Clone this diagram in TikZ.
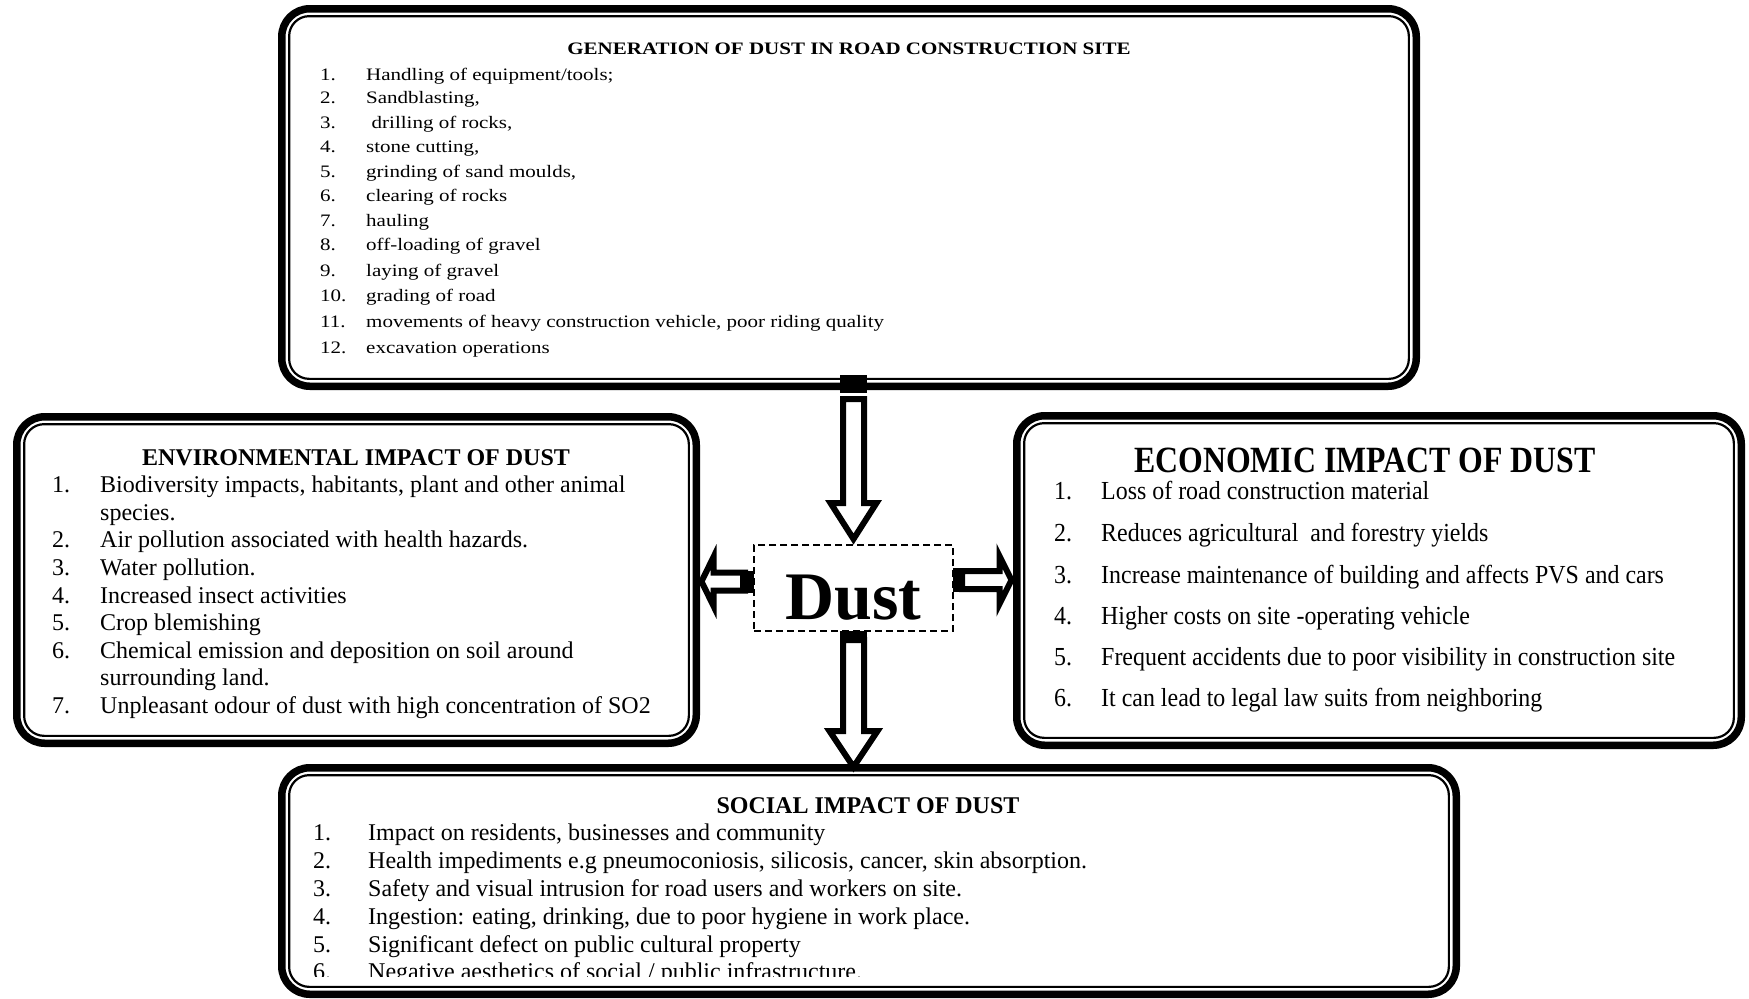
\documentclass[tikz,border=0pt]{standalone}
\usepackage{fontspec}
\setmainfont{Liberation Serif}
\usetikzlibrary{calc}

\tikzset{
  panel/.style={draw, fill=white, line width=7.5pt, rounded corners=28pt, inner sep=0pt, outer sep=0pt},
  liner/.style={line width=2.2pt, rounded corners=20pt},
  txt/.style={anchor=base west, inner sep=0pt},
  ttl/.style={anchor=base, inner sep=0pt},
  blockarrow/.style={draw, fill=white, line width=6pt, line join=miter, miter limit=10},
  dustbox/.style={draw, dash pattern=on 7pt off 4pt, line width=1.5pt, inner sep=0pt, outer sep=0pt,
                  minimum width=199pt, minimum height=86pt},
}
% thin second frame just inside a panel's thick border
\newcommand\innerframe[1]{%
  \draw[liner] ([xshift=7.4pt,yshift=-7.4pt]#1.north west) rectangle ([xshift=-7.4pt,yshift=7.4pt]#1.south east);}

\begin{document}
\begin{tikzpicture}[x=1pt,y=-1pt]
\useasboundingbox (0,0) rectangle (1749,999);

% ---- panels ----
\node[panel, minimum width=1134.5pt, minimum height=377.5pt] (gen) at (849,197.5) {};
\innerframe{gen}
\node[panel, minimum width=679.5pt, minimum height=326.5pt] (env) at (356.5,580) {};
\innerframe{env}
\node[panel, minimum width=724.5pt, minimum height=329.5pt] (eco) at (1379,580.5) {};
\innerframe{eco}
\node[panel, minimum width=1174.5pt, minimum height=226.5pt] (soc) at (869,881) {};
\innerframe{soc}

% ---- centre box ----
\node[dustbox] (dust) at (853.5,588) {};
\node[ttl, font=\fontsize{68}{70}\selectfont\bfseries] (dusttext) at (853.5,619) {Dust};

% ---- generation of dust ----
\begin{scope}[font=\fontsize{17.5}{20}\selectfont]
\node[ttl] (gt) at (849,54.8) {\scalebox{1.2}[1]{\bfseries GENERATION OF DUST IN ROAD CONSTRUCTION SITE}};
\foreach \t/\y [count=\k] in {
  {Handling of equipment/tools;}/80.3,
  {Sandblasting,}/103.3,
  {\hspace*{4.6pt}drilling of rocks,}/128.3,
  {stone cutting,}/152.3,
  {grinding of sand moulds,}/177.3,
  {clearing of rocks}/201.3,
  {hauling}/226.3,
  {off-loading of gravel}/250.3,
  {laying of gravel}/276.3,
  {grading of road}/301.3,
  {movements of heavy construction vehicle, poor riding quality}/327.3,
  {excavation operations}/353.3}{
  \node[txt] (gn\k) at (320,\y) {\scalebox{1.2}[1]{\k.}};
  \node[txt] (gi\k) at (366,\y) {\scalebox{1.2}[1]{\t}};
}
\end{scope}

% ---- environmental impact ----
\begin{scope}[font=\fontsize{24}{28}\selectfont]
\node[ttl] (et) at (356,465) {\bfseries ENVIRONMENTAL IMPACT OF DUST};
\node[txt] (en1) at (52,492.2) {1.};
\node[txt] (ei1) at (100,492.2) {Biodiversity impacts, habitants, plant and other animal};
\node[txt] (ei1b) at (100,520.2) {species.};
\node[txt] (en2) at (52,547.2) {2.};
\node[txt] (ei2) at (100,547.2) {Air pollution associated with health hazards.};
\node[txt] (en3) at (52,575.2) {3.};
\node[txt] (ei3) at (100,575.2) {Water pollution.};
\node[txt] (en4) at (52,603.2) {4.};
\node[txt] (ei4) at (100,603.2) {Increased insect activities};
\node[txt] (en5) at (52,630.2) {5.};
\node[txt] (ei5) at (100,630.2) {Crop blemishing};
\node[txt] (en6) at (52,658.2) {6.};
\node[txt] (ei6) at (100,658.2) {Chemical emission and deposition on soil around};
\node[txt] (ei6b) at (100,685.2) {surrounding land.};
\node[txt] (en7) at (52,713.2) {7.};
\node[txt] (ei7) at (100,713.2) {Unpleasant odour of dust with high concentration of SO2};
\end{scope}

% ---- economic impact ----
\node[ttl, font=\fontsize{37}{40}\selectfont] (ct) at (1365,472) {\scalebox{0.86}[1]{\bfseries ECONOMIC IMPACT OF DUST}};
\begin{scope}[font=\fontsize{26}{30}\selectfont]
\foreach \t/\y [count=\k] in {
  {Loss of road construction material}/499.8,
  {Reduces agricultural~ and forestry yields}/541.8,
  {Increase maintenance of building and affects PVS and cars}/583.8,
  {Higher costs on site -operating vehicle}/624.8,
  {Frequent accidents due to poor visibility in construction site}/665.8,
  {It can lead to legal law suits from neighboring}/706.8}{
  \node[txt] (cn\k) at (1054,\y) {\scalebox{0.92}[1]{\k.}};
  \node[txt] (ci\k) at (1101,\y) {\scalebox{0.92}[1]{\t}};
}
\end{scope}

% ---- social impact (last line runs under the frame) ----
\begin{scope}[font=\fontsize{24}{28}\selectfont]
\node[ttl] (st) at (868,813) {\bfseries SOCIAL IMPACT OF DUST};
\clip (300,770) rectangle (1440,976.5);
\foreach \t/\y [count=\k] in {
  {Impact on residents, businesses and community}/840.2,
  {Health impediments e.g pneumoconiosis, silicosis, cancer, skin absorption.}/868.2,
  {Safety and visual intrusion for road users and workers on site.}/896.2,
  {Ingestion: eating, drinking, due to poor hygiene in work place.}/924.2,
  {Significant defect on public cultural property}/952.2,
  {Negative aesthetics of social / public infrastructure.}/979.5}{
  \node[txt] (sn\k) at (313,\y) {\k.};
  \node[txt] (si\k) at (368,\y) {\t};
}
\end{scope}

% ---- block arrows ----
% generation -> dust
\fill let \p1=(gen.south), \p2=(dust.north) in
  (\x2-13.5pt,\y1+11pt) rectangle (\x2+13.5pt,\y1-6.75pt);
\draw[blockarrow] let \p1=(gen.south), \p2=(dust.north) in
  (\x2-10.5pt,\y1-12.75pt) -- (\x2+10.5pt,\y1-12.75pt) -- (\x2+10.5pt,\y2+42pt)
  -- (\x2+23pt,\y2+42pt) -- (\x2,\y2+6pt) -- (\x2-23pt,\y2+42pt)
  -- (\x2-10.5pt,\y2+42pt) -- cycle;
% dust -> social
\draw[blockarrow] let \p1=(dust.south), \p2=(soc.north) in
  (\x1-10.5pt,\y1-9pt) -- (\x1+10.5pt,\y1-9pt) -- (\x1+10.5pt,\y2+36.75pt)
  -- (\x1+24pt,\y2+36.75pt) -- (\x1,\y2+0.75pt) -- (\x1-24pt,\y2+36.75pt)
  -- (\x1-10.5pt,\y2+36.75pt) -- cycle;
\fill let \p1=(dust.south) in (\x1-13.5pt,\y1) rectangle (\x1+13.5pt,\y1-12pt);
% dust -> environmental
\draw[blockarrow] let \p1=(dust.west), \p2=(env.east) in
  (\x1-9pt,\y1+6.5pt+9pt) -- (\x1-9pt,\y1+6.5pt-9pt) -- (\x2+17.25pt,\y1+6.5pt-9pt)
  -- (\x2+17.25pt,\y1+6.5pt-24.5pt) -- (\x2+5.25pt,\y1+6.5pt) -- (\x2+17.25pt,\y1+6.5pt+24.5pt)
  -- (\x2+17.25pt,\y1+6.5pt+9pt) -- cycle;
\fill let \p1=(dust.west) in (\x1-14pt,\y1+6.5pt-11pt) rectangle (\x1,\y1+6.5pt+11pt);
% dust -> economic
\draw[blockarrow] let \p1=(dust.east), \p2=(eco.west) in
  (\x1+9pt,\y1+8pt+9pt) -- (\x1+9pt,\y1+8pt-9pt) -- (\x2-17.25pt,\y1+8pt-9pt)
  -- (\x2-17.25pt,\y1+8pt-24pt) -- (\x2-5.25pt,\y1+8pt) -- (\x2-17.25pt,\y1+8pt+24pt)
  -- (\x2-17.25pt,\y1+8pt+9pt) -- cycle;
\fill let \p1=(dust.east) in (\x1,\y1+8pt-12pt) rectangle (\x1+12pt,\y1+8pt+12pt);

% centre box outline on top
\node[dustbox] at (dust.center) {};
\end{tikzpicture}
\end{document}
